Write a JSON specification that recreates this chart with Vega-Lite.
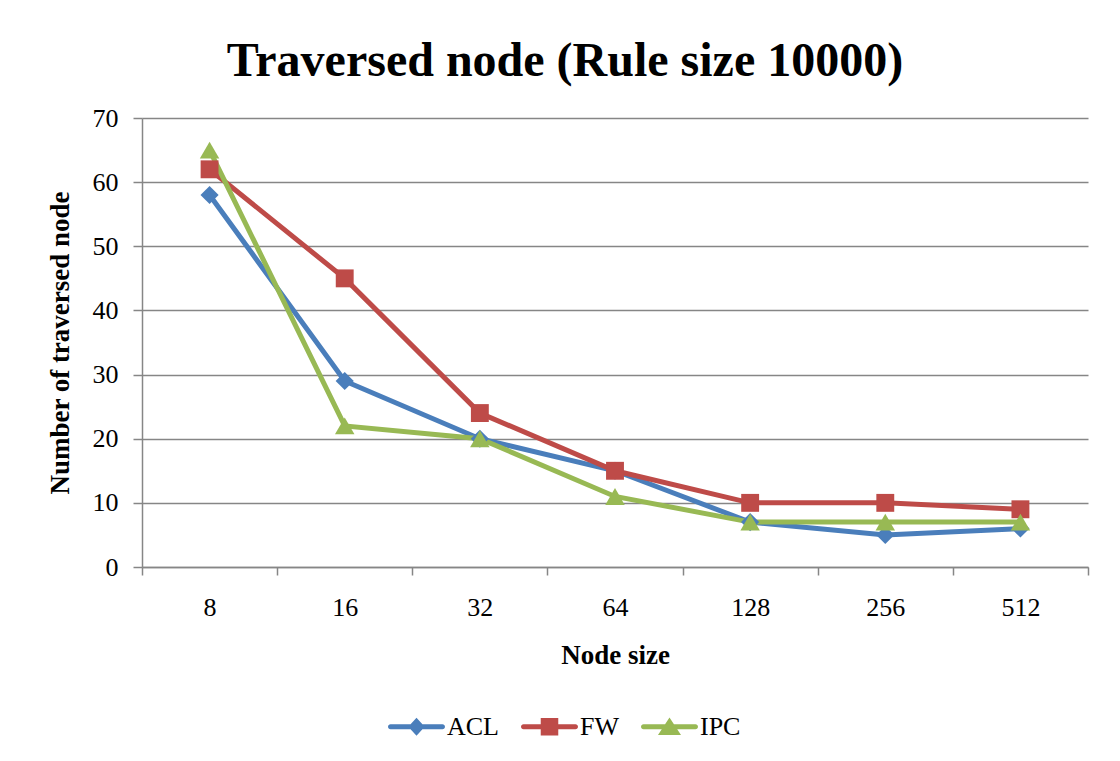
{
  "$schema": "https://vega.github.io/schema/vega-lite/v6.json",
  "autosize": "none",
  "width": 946,
  "height": 449,
  "padding": {"left": 142, "top": 118, "right": 32, "bottom": 194},
  "background": "white",
  "title": {
    "text": "Traversed node (Rule size 10000)",
    "font": "Liberation Serif",
    "fontSize": 48,
    "fontWeight": "bold",
    "color": "black",
    "anchor": "middle",
    "dx": -50,
    "offset": 19
  },
  "data": {
    "values": [
      {"node": "8", "series": "ACL", "value": 58},
      {"node": "16", "series": "ACL", "value": 29},
      {"node": "32", "series": "ACL", "value": 20},
      {"node": "64", "series": "ACL", "value": 15},
      {"node": "128", "series": "ACL", "value": 7},
      {"node": "256", "series": "ACL", "value": 5},
      {"node": "512", "series": "ACL", "value": 6},
      {"node": "8", "series": "FW", "value": 62},
      {"node": "16", "series": "FW", "value": 45},
      {"node": "32", "series": "FW", "value": 24},
      {"node": "64", "series": "FW", "value": 15},
      {"node": "128", "series": "FW", "value": 10},
      {"node": "256", "series": "FW", "value": 10},
      {"node": "512", "series": "FW", "value": 9},
      {"node": "8", "series": "IPC", "value": 65},
      {"node": "16", "series": "IPC", "value": 22},
      {"node": "32", "series": "IPC", "value": 20},
      {"node": "64", "series": "IPC", "value": 11},
      {"node": "128", "series": "IPC", "value": 7},
      {"node": "256", "series": "IPC", "value": 7},
      {"node": "512", "series": "IPC", "value": 7}
    ]
  },
  "encoding": {
    "x": {
      "field": "node",
      "type": "ordinal",
      "sort": ["8", "16", "32", "64", "128", "256", "512"],
      "scale": {"type": "band", "paddingInner": 0, "paddingOuter": 0},
      "axis": {
        "title": "Node size",
        "titleFont": "Liberation Serif",
        "titleFontSize": 27,
        "titleFontWeight": "bold",
        "titleColor": "black",
        "titlePadding": 22,
        "labelFont": "Liberation Serif",
        "labelFontSize": 26,
        "labelColor": "black",
        "labelAngle": 0,
        "labelPadding": 19,
        "tickBand": "extent",
        "tickSize": 8,
        "tickColor": "#868686",
        "tickWidth": 1.5,
        "domainColor": "#868686",
        "domainWidth": 1.5,
        "grid": false
      }
    },
    "y": {
      "field": "value",
      "type": "quantitative",
      "scale": {"domain": [0, 70], "nice": false},
      "axis": {
        "title": "Number of traversed node",
        "titleFont": "Liberation Serif",
        "titleFontSize": 27,
        "titleFontWeight": "bold",
        "titleColor": "black",
        "titlePadding": 18,
        "labelFont": "Liberation Serif",
        "labelFontSize": 26,
        "labelColor": "black",
        "labelPadding": 15,
        "values": [0, 10, 20, 30, 40, 50, 60, 70],
        "tickSize": 9,
        "tickColor": "#868686",
        "tickWidth": 1.5,
        "domainColor": "#868686",
        "domainWidth": 1.5,
        "grid": true,
        "gridColor": "#868686",
        "gridWidth": 1.5
      }
    },
    "color": {
      "field": "series",
      "type": "nominal",
      "scale": {"domain": ["ACL", "FW", "IPC"], "range": ["#4A7EBB", "#BE4B48", "#98B954"]},
      "legend": {
        "title": null,
        "orient": "none",
        "direction": "horizontal",
        "legendX": 247,
        "legendY": 581,
        "labelFont": "Liberation Serif",
        "labelFontSize": 26,
        "labelColor": "black",
        "labelOffset": 3,
        "symbolSize": 3000,
        "symbolStrokeWidth": 0,
        "symbolOpacity": 1,
        "columnPadding": 22,
        "encode": {
          "symbols": {
            "update": {
              "shape": {"signal": "datum.value == 'ACL' ? 'M-0.95,-0.09H0.95A0.09,0.09 0 0 1 0.95,0.09H-0.95A0.09,0.09 0 0 1 -0.95,-0.09Z M0,-0.33L0.3,0L0,0.33L-0.3,0Z' : datum.value == 'FW' ? 'M-0.95,-0.09H0.95A0.09,0.09 0 0 1 0.95,0.09H-0.95A0.09,0.09 0 0 1 -0.95,-0.09Z M-0.32,-0.32H0.32V0.32H-0.32Z' : 'M-0.95,-0.09H0.95A0.09,0.09 0 0 1 0.95,0.09H-0.95A0.09,0.09 0 0 1 -0.95,-0.09Z M0,-0.34L0.42,0.3H-0.42Z'"},
              "fill": {"signal": "datum.value == 'ACL' ? '#4A7EBB' : datum.value == 'FW' ? '#BE4B48' : '#98B954'"},
              "fillOpacity": {"value": 1},
              "strokeWidth": {"value": 0}
            }
          }
        }
      }
    }
  },
  "layer": [
    {"mark": {"type": "line", "strokeWidth": 5}},
    {
      "transform": [{"filter": "datum.series == 'ACL'"}],
      "mark": {"type": "point", "filled": true, "opacity": 1, "shape": "diamond", "size": 330}
    },
    {
      "transform": [{"filter": "datum.series == 'FW'"}],
      "mark": {"type": "point", "filled": true, "opacity": 1, "shape": "square", "size": 320}
    },
    {
      "transform": [{"filter": "datum.series == 'IPC'"}],
      "mark": {"type": "point", "filled": true, "opacity": 1, "shape": "triangle-up", "size": 380}
    }
  ],
  "config": {
    "view": {"stroke": null}
  }
}
